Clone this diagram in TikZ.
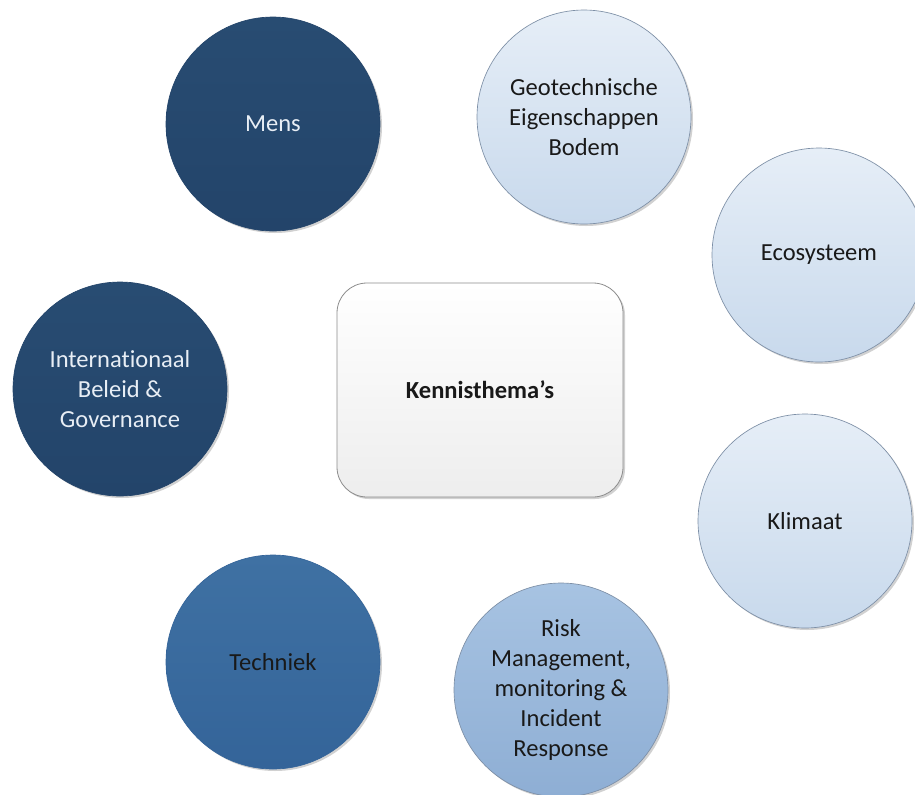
\documentclass[tikz,border=0pt]{standalone}
\usepackage{fontspec}
\setmainfont[Ligatures=NoCommon]{Carlito}
\usetikzlibrary{shadows}
\definecolor{navyTop}{HTML}{284C72}
\definecolor{navyBot}{HTML}{23446A}
\definecolor{midTop}{HTML}{3F71A3}
\definecolor{midBot}{HTML}{346499}
\definecolor{skyTop}{HTML}{A7C3E2}
\definecolor{skyBot}{HTML}{8EAED4}
\definecolor{paleTop}{HTML}{E6EEF7}
\definecolor{paleBot}{HTML}{C8D9EC}
\definecolor{edgeBlue}{HTML}{7D8FA6}
\definecolor{lightText}{HTML}{E8EEF5}
\tikzset{
  topic/.style={circle, minimum size=160.5pt, inner sep=0pt, align=center,
    font=\fontsize{18.4}{22.5}\selectfont,
    drop shadow={shadow xshift=1.5pt, shadow yshift=-1.5pt, opacity=0.18, fill=black}},
  darktopic/.style={topic, top color=navyTop, bottom color=navyBot, draw=navyBot, line width=0.5pt, text=lightText},
  midtopic/.style={topic, top color=midTop, bottom color=midBot, draw=midBot, line width=0.5pt, text=black!90},
  skytopic/.style={topic, top color=skyTop, bottom color=skyBot, draw=edgeBlue, line width=0.5pt, text=black!90},
  paletopic/.style={topic, top color=paleTop, bottom color=paleBot, draw=edgeBlue, line width=0.5pt, text=black!90},
  centrebox/.style={rectangle, rounded corners=22.5pt, minimum width=214.5pt, minimum height=160.5pt,
    top color=white, bottom color=black!7, draw=black!45, line width=0.6pt,
    font=\fontsize{18.4}{22.5}\selectfont\bfseries, text=black!90,
    drop shadow={shadow xshift=1.5pt, shadow yshift=-1.5pt, opacity=0.18, fill=black}}
}
\begin{document}
\begin{tikzpicture}[x=0.75pt,y=-0.75pt]
  \useasboundingbox (0,0) rectangle (915,794);
  \fill[white] (0,0) rectangle (915,794);

  \node[centrebox] (kern) at (480,390) {Kennisthema’s};

  \node[darktopic] (mens) at (273,124) {Mens};
  \node[paletopic] (geo) at (584,117) {Geotechnische\\Eigenschappen\\Bodem};
  \node[paletopic] (eco) at (819,255) {Ecosysteem};
  \node[darktopic] (intl) at (120,389) {Internationaal\\Beleid \&\\Governance};
  \node[paletopic] (klim) at (805,521) {Klimaat};
  \node[midtopic] (tech) at (273,662) {Techniek};
  \node[skytopic] (risk) at (561,690) {Risk\\Management,\\monitoring \&\\Incident\\Response};
\end{tikzpicture}
\end{document}
